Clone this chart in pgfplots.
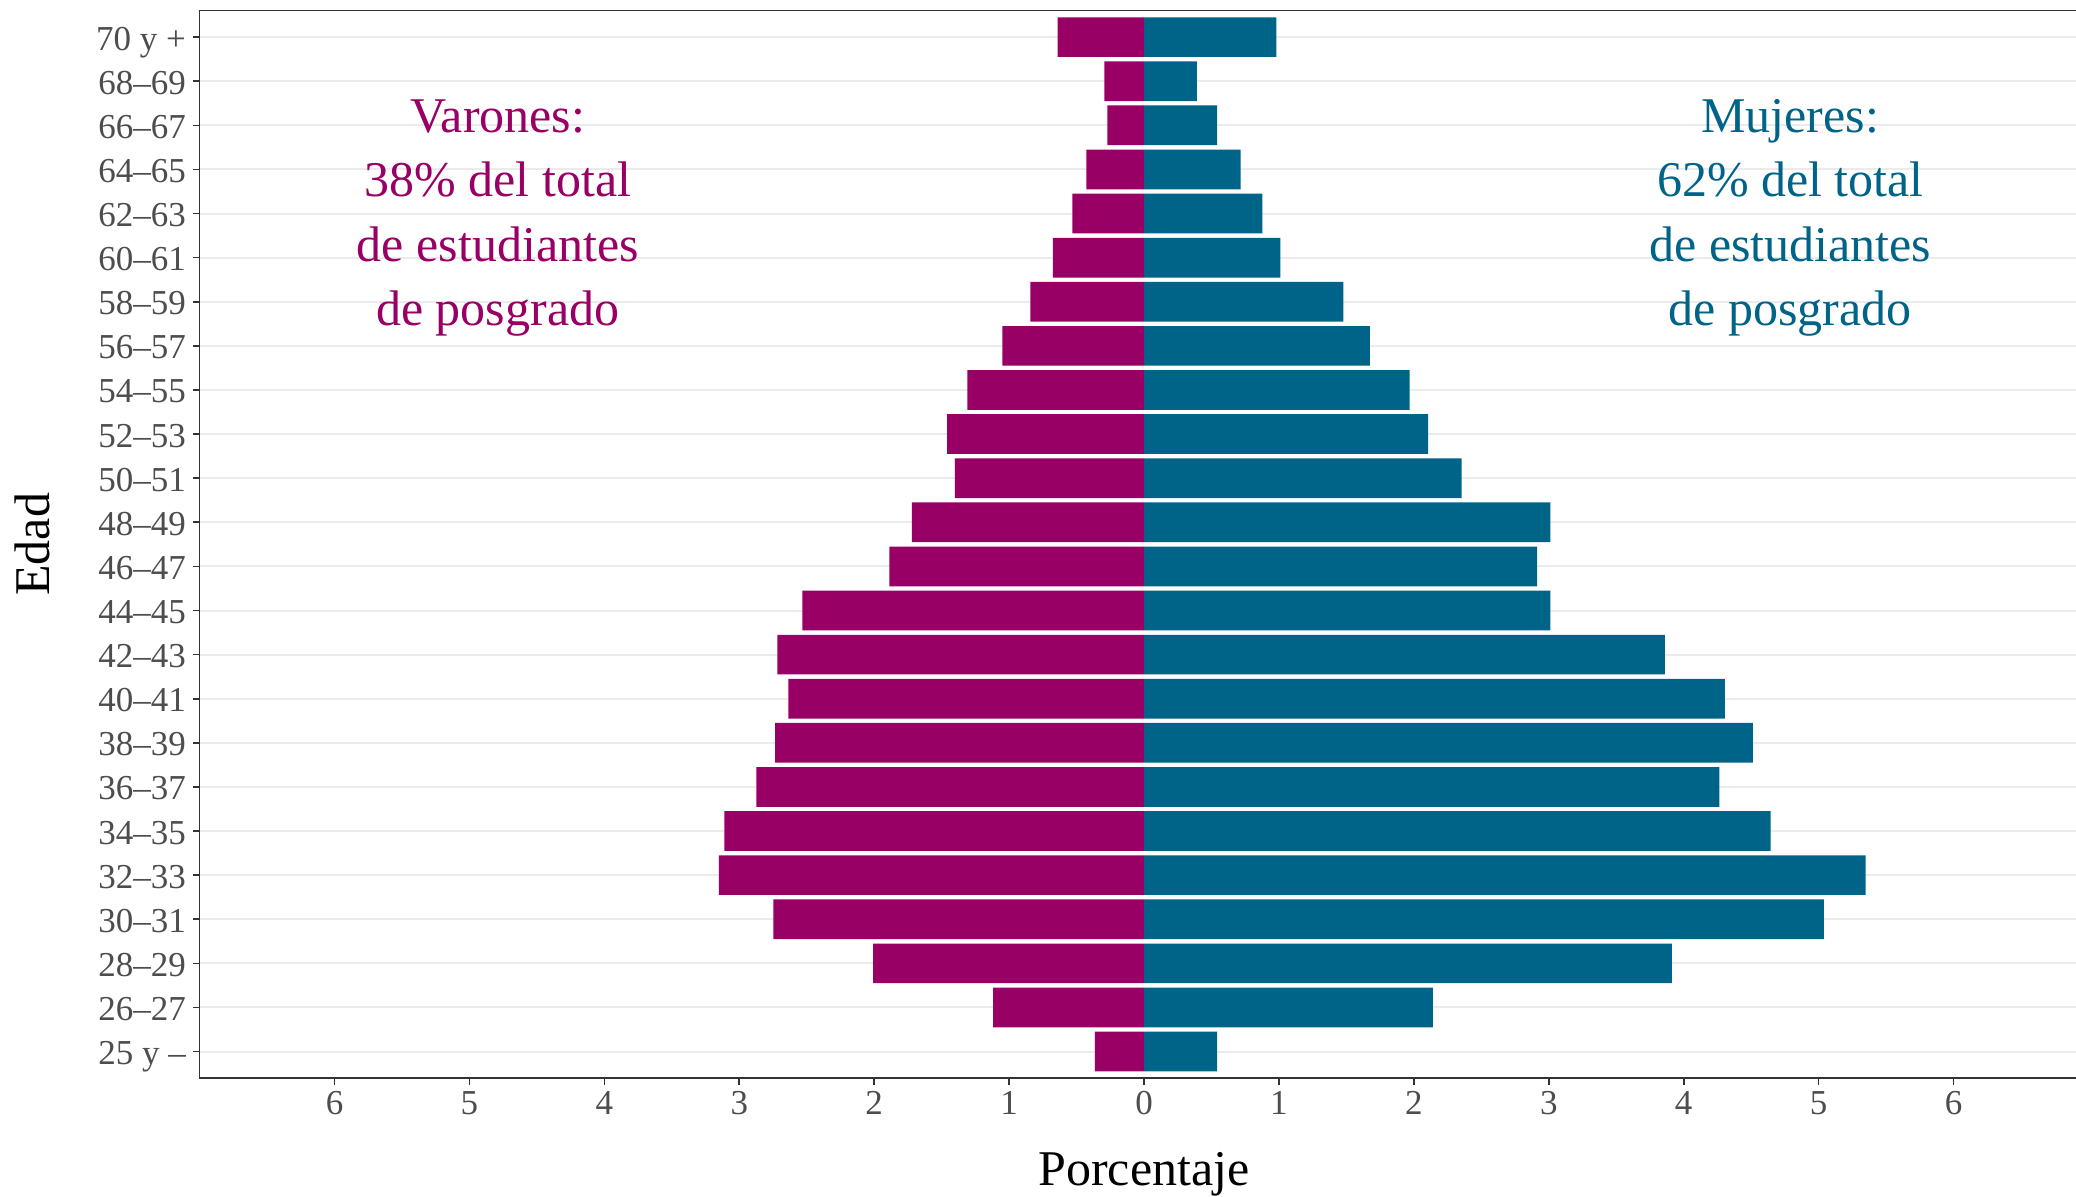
\documentclass[border=0pt]{standalone}
\usepackage{fontspec}
\setmainfont{Liberation Serif}
\usepackage{pgfplots}
\usepackage{pgfplotstable}
\pgfplotsset{compat=1.18}
\definecolor{varon}{HTML}{990066}
\definecolor{mujer}{HTML}{006388}
\definecolor{gridc}{HTML}{EBEBEB}
\definecolor{tickc}{HTML}{4D4D4D}
\definecolor{axc}{HTML}{333333}

\pgfplotstableread{
y v m
0 -0.364 0.542
1 -1.119 2.141
2 -2.008 3.912
3 -2.747 5.038
4 -3.151 5.349
5 -3.110 4.645
6 -2.874 4.264
7 -2.735 4.512
8 -2.637 4.305
9 -2.718 3.860
10 -2.533 3.012
11 -1.887 2.914
12 -1.720 3.012
13 -1.402 2.354
14 -1.460 2.106
15 -1.310 1.968
16 -1.050 1.673
17 -0.842 1.477
18 -0.675 1.010
19 -0.531 0.877
20 -0.427 0.716
21 -0.271 0.542
22 -0.294 0.392
23 -0.640 0.981
}\datatable

\begin{document}
\begin{tikzpicture}
\begin{axis}[
  name=ax,
  scale only axis,
  width=563.8pt, height=320.2pt,
  xmin=-7, xmax=6.93, ymin=-0.6, ymax=23.6,
  bar width=0.9, bar shift=0pt,
  ytick={0,...,23},
  yticklabels={25 y --,26--27,28--29,30--31,32--33,34--35,36--37,38--39,40--41,42--43,44--45,46--47,48--49,50--51,52--53,54--55,56--57,58--59,60--61,62--63,64--65,66--67,68--69,70 y +},
  xtick={-6,...,6},
  xticklabels={6,5,4,3,2,1,0,1,2,3,4,5,6},
  xtick pos=bottom, ytick pos=left,
  tick align=outside,
  major tick length=2pt,
  tick style={axc, line width=0.5pt},
  ymajorgrids,
  grid style={gridc, line width=0.6pt},
  axis line style={axc, line width=0.5pt},
  ticklabel style={font=\fontsize{10.5}{12}\selectfont, text=tickc, inner sep=0pt},
  yticklabel style={anchor=base east, yshift=-3.9pt, xshift=-1.9pt},
  xticklabel style={anchor=base, yshift=-8.9pt},
  clip=false,
]
\addplot[xbar, fill=varon, draw=none] table[x=v, y=y]{\datatable};
\addplot[xbar, fill=mujer, draw=none] table[x=m, y=y]{\datatable};

\begin{scope}[font=\fontsize{15}{18}\selectfont]
\node[varon, anchor=base] at (axis cs:-4.79,20.83) {Varones:};
\node[varon, anchor=base] at (axis cs:-4.79,19.38) {38\% del total};
\node[varon, anchor=base] at (axis cs:-4.79,17.92) {de estudiantes};
\node[varon, anchor=base] at (axis cs:-4.79,16.47) {de posgrado};
\node[mujer, anchor=base] at (axis cs:4.79,20.83) {Mujeres:};
\node[mujer, anchor=base] at (axis cs:4.79,19.38) {62\% del total};
\node[mujer, anchor=base] at (axis cs:4.79,17.92) {de estudiantes};
\node[mujer, anchor=base] at (axis cs:4.79,16.47) {de posgrado};
\node[anchor=base, inner sep=0pt, yshift=-32.1pt] at (axis cs:0,-0.6) {Porcentaje};
\end{scope}
\end{axis}
\node[anchor=base, rotate=90, inner sep=0pt, font=\fontsize{15}{18}\selectfont] at ([xshift=-44.9pt]ax.west) {Edad};
\pgfresetboundingbox
\path ([xshift=-59.88pt,yshift=-35.4pt]ax.south west) rectangle ([xshift=562.9pt,yshift=323.4pt]ax.south west);
\end{tikzpicture}
\end{document}
